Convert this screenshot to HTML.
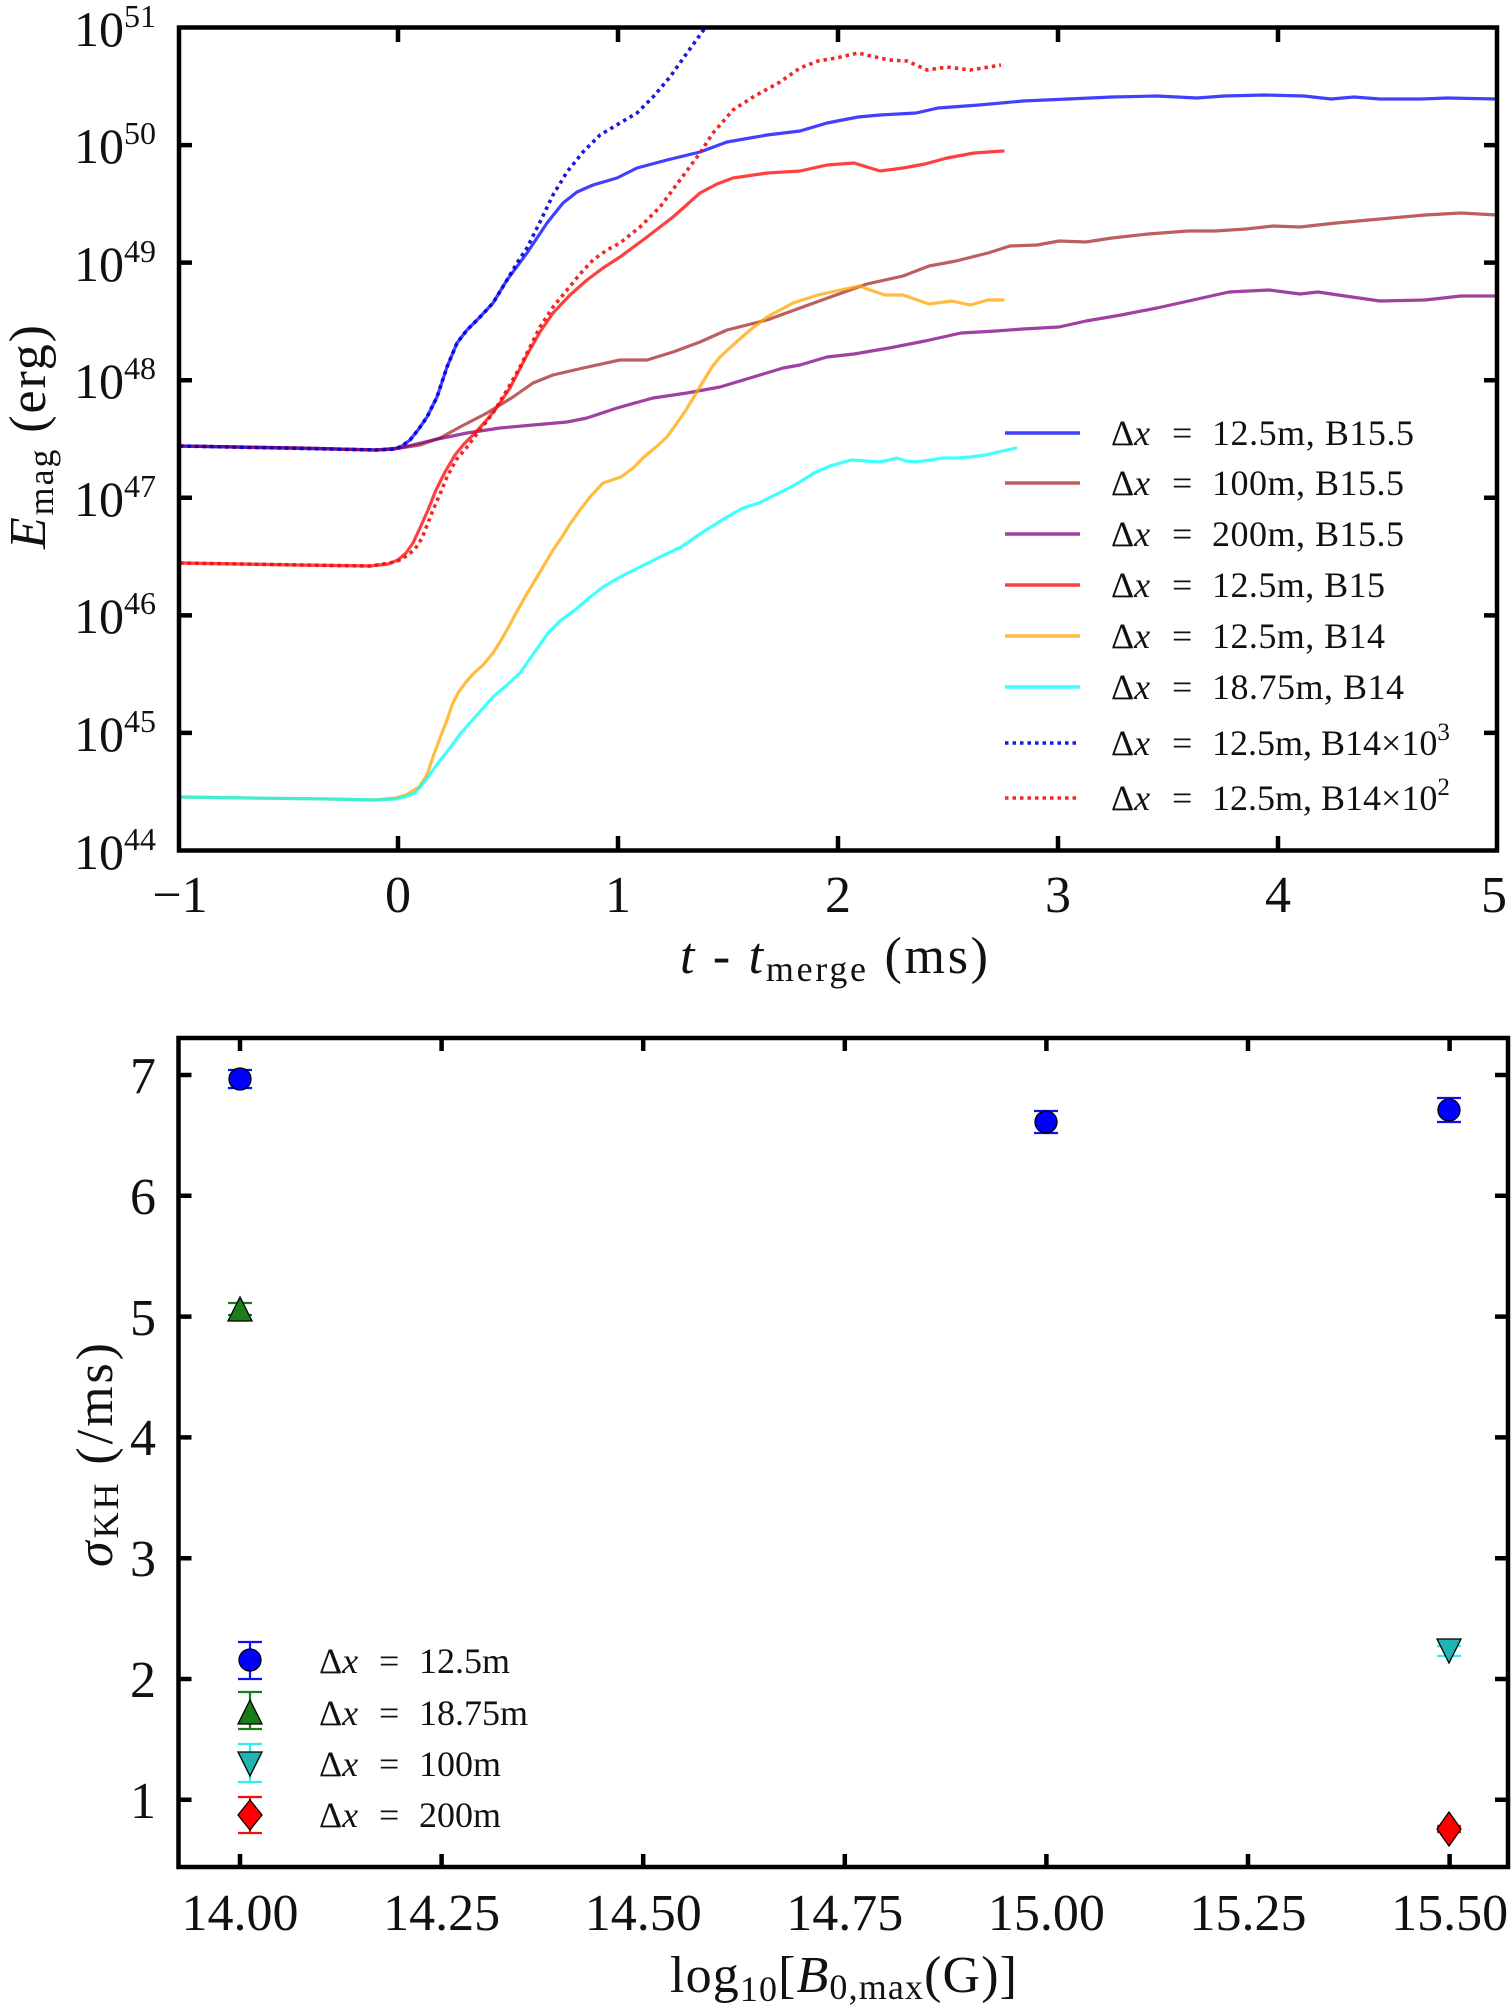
<!DOCTYPE html>
<html><head><meta charset="utf-8"><style>
html,body{margin:0;padding:0;background:#fff;}
svg{display:block;}
text{font-family:"Liberation Serif","DejaVu Serif",serif;fill:#111;}
</style></head><body>
<svg width="1512" height="2007" viewBox="0 0 1512 2007" xmlns="http://www.w3.org/2000/svg">
<rect width="1512" height="2007" fill="#fff"/>
<defs><clipPath id="c1"><rect x="179" y="28" width="1318" height="822"/></clipPath></defs>

<!-- ===== TOP PANEL CURVES ===== -->
<g clip-path="url(#c1)" fill="none" stroke-width="3.2" stroke-linejoin="round" stroke-linecap="round" stroke-opacity="0.75">
<polyline stroke="#0000ff" points="180,446 230,447 280,448 330,449 376,450 395,449 402,446 410,440 418,430 427,417 437,397 447,367 457,343 467,330 480,317 493,303 507,280 527,253 547,223 563,203 577,192 593,185 617,178 637,168 667,160 700,152 727,142 767,135 800,131 827,123 858,117 880,115 916,113 938,108 979,105 1023,101 1068,99 1112,97 1157,96 1197,98 1224,96 1264,95 1304,96 1331,99 1354,97 1380,99 1421,99 1447,98 1497,99"/>
<polyline stroke="#a52a2a" points="180,446 300,448 376,450 400,448 420,445 440,438 460,427 487,413 513,397 533,383 553,375 583,368 620,360 647,360 673,352 700,342 727,330 767,320 800,308 836,295 867,284 903,276 929,266 956,261 988,253 1010,246 1037,245 1059,241 1086,242 1112,238 1148,234 1188,231 1215,231 1246,229 1273,226 1300,227 1336,223 1380,219 1425,215 1461,213 1497,215"/>
<polyline stroke="#800080" points="180,446 300,448 376,450 400,448 433,440 467,433 500,428 533,425 567,422 587,418 617,408 653,398 687,393 720,387 750,378 783,368 800,365 827,357 854,354 889,348 925,341 961,333 996,331 1023,329 1059,327 1086,321 1121,315 1157,308 1193,300 1229,292 1269,290 1300,294 1318,292 1345,296 1380,301 1425,300 1461,296 1497,296"/>
<polyline stroke="#ff0000" points="180,563 300,565 370,566 388,564 398,560 406,553 413,543 420,528 428,510 436,490 445,472 455,455 464,444 474,434 485,422 495,410 510,388 527,355 540,332 553,313 570,295 587,280 603,268 620,257 647,237 673,217 700,193 717,184 733,178 767,173 800,171 827,165 854,163 880,171 903,168 925,164 947,158 974,153 1003,151"/>
<polyline stroke="#ffa500" points="180,797 250,798 330,799 375,800 395,798 406,795 419,787 427,775 433,757 440,738 447,720 452,705 458,693 466,682 474,673 483,665 493,653 500,642 507,630 516,613 525,597 534,582 543,567 553,550 562,537 570,524 580,510 590,497 603,483 612,480 621,477 633,468 644,457 656,447 667,437 677,423 686,410 695,395 704,380 712,367 720,357 733,345 750,330 767,317 780,310 793,303 818,295 836,291 860,286 867,289 885,295 903,295 929,304 952,301 970,305 988,300 1003,300"/>
<polyline stroke="#00ffff" points="180,797 250,798 330,799 375,800 395,799 405,797 415,793 426,780 438,763 450,748 461,733 476,716 493,697 507,685 520,673 534,653 548,633 561,620 575,610 589,598 603,587 620,577 640,567 660,557 681,547 703,532 727,517 743,508 759,503 775,495 791,487 803,480 814,473 830,466 851,460 866,461 879,462 889,460 897,458 906,461 915,462 930,460 943,458 957,458 970,457 985,455 998,452 1016,448"/>
<polyline stroke="#0000dd" stroke-width="3.6" stroke-dasharray="3.5 4" stroke-linecap="butt" stroke-opacity="0.9" points="180,446 230,447 280,448 330,449 376,450 395,449 402,446 410,440 418,430 427,417 437,397 447,367 457,343 467,330 480,317 493,303 507,280 517,263 527,248 540,222 553,195 567,172 583,152 600,135 620,123 637,113 653,97 670,77 687,53 705,28 710,20"/>
<polyline stroke="#ee1111" stroke-width="3.6" stroke-dasharray="3.5 4" stroke-linecap="butt" stroke-opacity="0.9" points="180,563 300,565 370,566 390,563 400,560 408,555 415,549 422,538 428,523 433,510 440,494 447,477 456,460 467,447 480,430 493,413 507,390 520,367 530,347 540,327 553,307 567,290 580,274 593,260 607,250 620,243 640,227 660,207 680,180 700,153 713,133 733,110 753,97 780,82 800,68 818,61 836,58 858,53 871,56 889,60 907,61 927,70 947,67 970,70 983,68 1001,65"/>
</g>

<!-- top frame & ticks -->
<g stroke="#000" stroke-width="4.5" fill="none">
<rect x="179" y="27.5" width="1318" height="823"/>
<path d="M179,145.1h13M179,262.6h13M179,380.2h13M179,497.8h13M179,615.4h13M179,732.9h13
M1497,145.1h-13M1497,262.6h-13M1497,380.2h-13M1497,497.8h-13M1497,615.4h-13M1497,732.9h-13
M398,850v-14M618,850v-14M838,850v-14M1058,850v-14M1278,850v-14
M398,28v14M618,28v14M838,28v14M1058,28v14M1278,28v14"/>
</g>

<!-- top y tick labels -->
<g font-size="50" text-anchor="end">
<text x="156" y="46">10<tspan font-size="32" dy="-19">51</tspan></text>
<text x="156" y="163">10<tspan font-size="32" dy="-19">50</tspan></text>
<text x="156" y="281">10<tspan font-size="32" dy="-19">49</tspan></text>
<text x="156" y="398">10<tspan font-size="32" dy="-19">48</tspan></text>
<text x="156" y="516">10<tspan font-size="32" dy="-19">47</tspan></text>
<text x="156" y="633">10<tspan font-size="32" dy="-19">46</tspan></text>
<text x="156" y="751">10<tspan font-size="32" dy="-19">45</tspan></text>
<text x="156" y="869">10<tspan font-size="32" dy="-19">44</tspan></text>
</g>
<!-- top x tick labels -->
<g font-size="52" text-anchor="middle">
<text x="180" y="912">−1</text>
<text x="398" y="912">0</text>
<text x="618" y="912">1</text>
<text x="838" y="912">2</text>
<text x="1058" y="912">3</text>
<text x="1278" y="912">4</text>
<text x="1494" y="912">5</text>
</g>
<!-- top axis labels -->
<text x="680" y="973" font-size="52" textLength="308" lengthAdjust="spacing"><tspan font-style="italic">t</tspan> - <tspan font-style="italic">t</tspan><tspan font-size="36" dy="8">merge</tspan><tspan dy="-8"> (ms)</tspan></text>
<text transform="translate(45,437) rotate(-90)" text-anchor="middle" font-size="52" textLength="224" lengthAdjust="spacing"><tspan font-style="italic">E</tspan><tspan font-size="36" dy="8">mag</tspan><tspan dy="-8"> (erg)</tspan></text>

<!-- top legend -->
<g stroke-width="3.6" fill="none" stroke-opacity="0.75">
<line x1="1005" y1="433" x2="1080" y2="433" stroke="#0000ff"/>
<line x1="1005" y1="483" x2="1080" y2="483" stroke="#a52a2a"/>
<line x1="1005" y1="534" x2="1080" y2="534" stroke="#800080"/>
<line x1="1005" y1="585" x2="1080" y2="585" stroke="#ff0000"/>
<line x1="1005" y1="636" x2="1080" y2="636" stroke="#ffa500"/>
<line x1="1005" y1="687" x2="1080" y2="687" stroke="#00ffff"/>
<line x1="1005" y1="743" x2="1080" y2="743" stroke="#0000dd" stroke-dasharray="3.5 4" stroke-opacity="0.9"/>
<line x1="1005" y1="798" x2="1080" y2="798" stroke="#ee1111" stroke-dasharray="3.5 4" stroke-opacity="0.9"/>
</g>
<g font-size="36">
<text x="1111" y="445">Δ<tspan font-style="italic">x</tspan></text><text x="1172" y="445">=</text><text x="1212" y="445" textLength="202" lengthAdjust="spacing">12.5m, B15.5</text>
<text x="1111" y="495">Δ<tspan font-style="italic">x</tspan></text><text x="1172" y="495">=</text><text x="1212" y="495" textLength="192" lengthAdjust="spacing">100m, B15.5</text>
<text x="1111" y="546">Δ<tspan font-style="italic">x</tspan></text><text x="1172" y="546">=</text><text x="1212" y="546" textLength="192" lengthAdjust="spacing">200m, B15.5</text>
<text x="1111" y="597">Δ<tspan font-style="italic">x</tspan></text><text x="1172" y="597">=</text><text x="1212" y="597" textLength="173" lengthAdjust="spacing">12.5m, B15</text>
<text x="1111" y="648">Δ<tspan font-style="italic">x</tspan></text><text x="1172" y="648">=</text><text x="1212" y="648" textLength="173" lengthAdjust="spacing">12.5m, B14</text>
<text x="1111" y="699">Δ<tspan font-style="italic">x</tspan></text><text x="1172" y="699">=</text><text x="1212" y="699" textLength="192" lengthAdjust="spacing">18.75m, B14</text>
<text x="1111" y="755">Δ<tspan font-style="italic">x</tspan></text><text x="1172" y="755">=</text><text x="1212" y="755">12.5m, B14×10<tspan font-size="25" dy="-15">3</tspan></text>
<text x="1111" y="810">Δ<tspan font-style="italic">x</tspan></text><text x="1172" y="810">=</text><text x="1212" y="810">12.5m, B14×10<tspan font-size="25" dy="-15">2</tspan></text>
</g>

<!-- ===== BOTTOM PANEL ===== -->
<g stroke="#000" stroke-width="4.5" fill="none">
<rect x="178.5" y="1038" width="1329.5" height="829"/>
<path d="M178.5,1075h13M178.5,1195.8h13M178.5,1316.6h13M178.5,1437.4h13M178.5,1558.2h13M178.5,1679h13M178.5,1799.8h13
M1508,1075h-13M1508,1195.8h-13M1508,1316.6h-13M1508,1437.4h-13M1508,1558.2h-13M1508,1679h-13M1508,1799.8h-13
M240,1867v-13M441.6,1867v-13M643.2,1867v-13M844.8,1867v-13M1046.4,1867v-13M1248,1867v-13M1449.6,1867v-13
M240,1038v13M441.6,1038v13M643.2,1038v13M844.8,1038v13M1046.4,1038v13M1248,1038v13M1449.6,1038v13"/>
</g>
<g font-size="52" text-anchor="end">
<text x="156" y="1093">7</text>
<text x="156" y="1214">6</text>
<text x="156" y="1335">5</text>
<text x="156" y="1455">4</text>
<text x="156" y="1576">3</text>
<text x="156" y="1697">2</text>
<text x="156" y="1818">1</text>
</g>
<g font-size="52" text-anchor="middle">
<text x="240" y="1930">14.00</text>
<text x="441.6" y="1930">14.25</text>
<text x="643.2" y="1930">14.50</text>
<text x="844.8" y="1930">14.75</text>
<text x="1046.4" y="1930">15.00</text>
<text x="1248" y="1930">15.25</text>
<text x="1449.6" y="1930">15.50</text>
</g>
<text x="670" y="1992" font-size="52" textLength="347" lengthAdjust="spacing">log<tspan font-size="36" dy="9">10</tspan><tspan dy="-9">[</tspan><tspan font-style="italic">B</tspan><tspan font-size="36" dy="7">0,max</tspan><tspan dy="-7">(G)]</tspan></text>
<text transform="translate(112,1455) rotate(-90)" text-anchor="middle" font-size="52" textLength="224" lengthAdjust="spacing"><tspan font-style="italic">σ</tspan><tspan font-size="36" dy="6">KH</tspan><tspan dy="-6"> (/ms)</tspan></text>

<!-- data points -->
<g stroke-width="2.2">
<path d="M240,1070v18M228,1070h24M228,1088h24" stroke="#1010ee"/>
<circle cx="240" cy="1079" r="11" fill="#0000ff" stroke="#000" stroke-width="1.3"/>
<path d="M240,1303v12M228,1303h24M228,1315h24" stroke="#1a7d1a"/>
<polygon points="240,1297 228,1321 252,1321" fill="#1a7d1a" stroke="#000" stroke-width="1.3"/>
<path d="M1046,1111v22M1034,1111h24M1034,1133h24" stroke="#1010ee"/>
<circle cx="1046" cy="1122" r="11" fill="#0000ff" stroke="#000" stroke-width="1.3"/>
<path d="M1449,1098v24M1437,1098h24M1437,1122h24" stroke="#1010ee"/>
<circle cx="1449" cy="1110" r="11" fill="#0000ff" stroke="#000" stroke-width="1.3"/>
<path d="M1449,1646v10M1437,1646h24M1437,1656h24" stroke="#33eeee"/>
<polygon points="1437,1639 1461,1639 1449,1663" fill="#1fb3b3" stroke="#000" stroke-width="1.3"/>
<path d="M1449,1826v6M1437,1826h24M1437,1832h24" stroke="#ee1111"/>
<polygon points="1449,1812 1461,1829 1449,1846 1437,1829" fill="#ff0000" stroke="#000" stroke-width="1.3"/>
</g>

<!-- bottom legend -->
<g stroke-width="2.2">
<path d="M250,1642v37M238,1642h24M238,1679h24" stroke="#1010ee"/>
<circle cx="250" cy="1660" r="11" fill="#0000ff" stroke="#000" stroke-width="1.3"/>
<path d="M250,1692v37M238,1692h24M238,1729h24" stroke="#1a7d1a"/>
<polygon points="250,1700 238,1724 262,1724" fill="#1a7d1a" stroke="#000" stroke-width="1.3"/>
<path d="M250,1744v38M238,1744h24M238,1782h24" stroke="#33eeee"/>
<polygon points="238,1752 262,1752 250,1776" fill="#1fb3b3" stroke="#000" stroke-width="1.3"/>
<path d="M250,1797v36M238,1797h24M238,1833h24" stroke="#ee1111"/>
<polygon points="250,1800 262,1815 250,1830 238,1815" fill="#ff0000" stroke="#000" stroke-width="1.3"/>
</g>
<g font-size="36">
<text x="319" y="1673">Δ<tspan font-style="italic">x</tspan></text><text x="379" y="1673">=</text><text x="419" y="1673">12.5m</text>
<text x="319" y="1725">Δ<tspan font-style="italic">x</tspan></text><text x="379" y="1725">=</text><text x="419" y="1725">18.75m</text>
<text x="319" y="1776">Δ<tspan font-style="italic">x</tspan></text><text x="379" y="1776">=</text><text x="419" y="1776">100m</text>
<text x="319" y="1827">Δ<tspan font-style="italic">x</tspan></text><text x="379" y="1827">=</text><text x="419" y="1827">200m</text>
</g>
</svg>
</body></html>
